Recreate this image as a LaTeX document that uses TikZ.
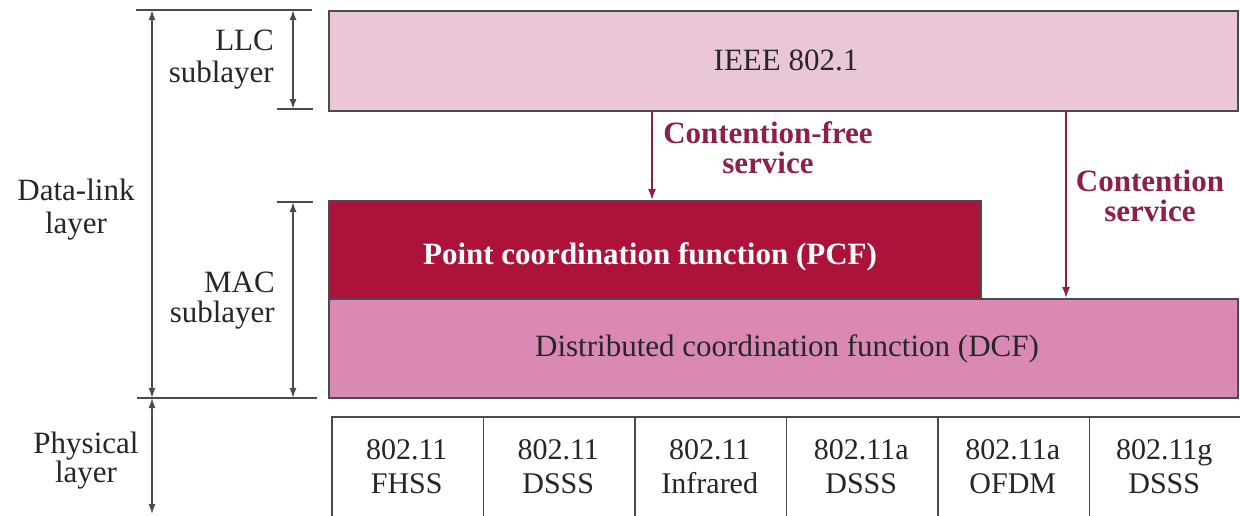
\documentclass[tikz,border=0pt]{standalone}
\usepackage{fontspec}
\setmainfont{Liberation Serif}
\usetikzlibrary{arrows.meta}
\definecolor{llcpink}{RGB}{234,199,216}
\definecolor{dcfpink}{RGB}{218,136,180}
\definecolor{pcfred}{RGB}{172,18,58}
\definecolor{svcred}{RGB}{140,32,72}
\definecolor{rule}{RGB}{75,75,75}
\tikzset{
  txt/.style={inner sep=0pt, anchor=base, font=\fontsize{31}{34}\selectfont, text=black!85},
  txtr/.style={txt, anchor=base east},
  svc/.style={inner sep=0pt, anchor=base, font=\fontsize{31}{34}\selectfont\bfseries, text=svcred},
  layerbox/.style={draw=rule, line width=1.6pt, inner sep=0pt, anchor=north west},
  dim/.style={draw=rule, line width=1.4pt, {Latex[length=10pt,width=7pt]}-{Latex[length=10pt,width=7pt]}},
  tick/.style={draw=rule, line width=1.4pt},
  svcarrow/.style={draw=svcred, line width=1.6pt, -{Latex[length=11pt,width=8pt]}},
}
\begin{document}
\begin{tikzpicture}[x=1pt, y=-1pt]
\useasboundingbox (0,0) rectangle (1240,515);
\clip (0,0) rectangle (1240,515);

% layer boxes
\node[layerbox, fill=llcpink, minimum width=909pt, minimum height=100pt] (llc) at (328,10) {};
\node[layerbox, fill=dcfpink, minimum width=909pt, minimum height=99pt] (dcf) at (328,298) {};
\node[layerbox, fill=pcfred, minimum width=652pt, minimum height=98pt] (pcf) at (328,200) {};

\node[txt] (ieee) at (786,70) {IEEE 802.1};
\node[txt, text=white, font=\fontsize{31}{34}\selectfont\bfseries] (pcftext) at (650,264) {Point coordination function (PCF)};
\node[txt] (dcftext) at (787,356) {Distributed coordination function (DCF)};

% physical layer cells
\foreach \i/\a/\b in {0/802.11/FHSS, 1/802.11/DSSS, 2/802.11/Infrared, 3/802.11a/DSSS, 4/802.11a/OFDM, 5/802.11g/DSSS}{
  \node[layerbox, fill=white, minimum width=151.5pt, minimum height=110pt] (phy\i) at ({331+151.5*\i},416) {};
  \node[txt, font=\fontsize{30}{34}\selectfont] (phy\i a) at ({331+151.5*\i+75.75},459) {\a};
  \node[txt, font=\fontsize{30}{34}\selectfont] (phy\i b) at ({331+151.5*\i+75.75},493) {\b};
}

% service arrows
\coordinate (cfTop) at (652,110);
\coordinate (cfEnd) at (652,200);
\coordinate (cTop) at (1066,110);
\coordinate (cEnd) at (1066,298);
\draw[svcarrow] (cfTop) -- (cfEnd);
\draw[svcarrow] (cTop) -- (cEnd);
\node[svc] (cfA) at (768,143) {Contention-free};
\node[svc] (cfB) at (768,173) {service};
\node[svc] (cA) at (1150,191) {Contention};
\node[svc] (cB) at (1150,221) {service};

% dimension lines on the left
\coordinate (topL) at (136,10);
\coordinate (topR) at (312,10);
\coordinate (llcL) at (277,109);
\coordinate (llcR) at (313,109);
\coordinate (macL) at (277,202);
\coordinate (macR) at (313,202);
\coordinate (phyL) at (137,398);
\coordinate (phyR) at (317,398);
\coordinate (dlTop) at (152,10);
\coordinate (dlBot) at (152,398);
\coordinate (llcTop) at (293,10);
\coordinate (llcBot) at (293,109);
\coordinate (macTop) at (293,202);
\coordinate (macBot) at (293,398);
\coordinate (phTop) at (152,398);
\coordinate (phBot) at (152,514);
\draw[tick] (topL) -- (topR);
\draw[tick] (llcL) -- (llcR);
\draw[tick] (macL) -- (macR);
\draw[tick] (phyL) -- (phyR);
\draw[dim] (dlTop) -- (dlBot);
\draw[dim] (llcTop) -- (llcBot);
\draw[dim] (macTop) -- (macBot);
\draw[dim] (phTop) -- (phBot);

% layer names
\node[txtr] (llcA) at (274,50) {LLC};
\node[txtr] (llcB) at (274,82) {sublayer};
\node[txt] (dlA) at (76,200) {Data-link};
\node[txt] (dlB) at (76,233) {layer};
\node[txtr] (macA) at (275,292) {MAC};
\node[txtr] (macB) at (275,322) {sublayer};
\node[txt] (phA) at (86,453) {Physical};
\node[txt] (phB) at (86,482) {layer};
\end{tikzpicture}
\end{document}
